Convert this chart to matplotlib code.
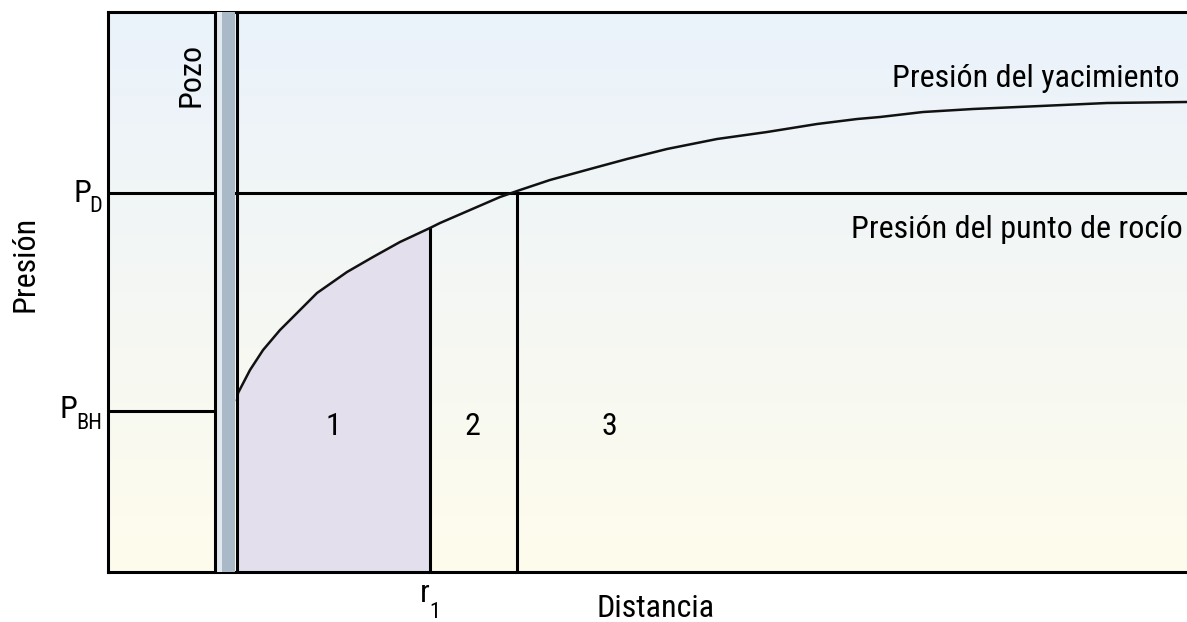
import numpy as np
import matplotlib.pyplot as plt
from matplotlib.colors import to_rgb

plt.rcParams['font.family'] = ['Roboto Condensed', 'DejaVu Sans']

# pressure profile (distance and pressure in % of axis range)
distance = [11.96, 12.05, 13.16, 14.37, 15.94, 17.52, 19.37, 22.15, 24.56, 27.06,
            29.84, 30.77, 36.33, 38.18, 40.96, 44.67, 48.10, 51.81, 56.44, 61.08,
            65.71, 69.42, 71.55, 75.53, 80.17, 86.38, 92.59, 100]
pressure = [30.71, 31.96, 36.07, 39.64, 43.21, 46.25, 49.82, 53.57, 56.25, 58.93,
            61.43, 62.32, 66.96, 68.21, 70.00, 71.96, 73.75, 75.54, 77.32, 78.57,
            80.00, 80.89, 81.25, 82.14, 82.68, 83.21, 83.75, 83.93]

p_dew = 67.7      # P_D
p_bh = 28.7       # P_BH
r1 = 29.84        # r_1
r_dew = 37.9      # where curve crosses P_D
well_left = 9.9
well_right = 11.96

region_labels = ["1", "2", "3"]
region_x = [20.85, 33.8, 46.5]

fig = plt.figure(figsize=(11.87, 6.22), dpi=100)
ax = fig.add_axes([108 / 1187, 1 - 572 / 622, 1 - 108 / 1187, 560 / 622])
ax.set_xlim(0, 100)
ax.set_ylim(0, 100)

# background gradient: light blue at top, pale yellow at bottom
top = np.array(to_rgb('#eaf2fb'))
bot = np.array(to_rgb('#fefcec'))
t = np.linspace(0, 1, 256)[:, None]
grad = (top * (1 - t) + bot * t)[:, None, :]
ax.imshow(grad, extent=[0, 100, 0, 100], aspect='auto', zorder=0)

# region 1 fill
d = np.array(distance)
p = np.array(pressure)
ax.fill_between(d, 0, p, where=d <= r1, color='#e4dfec', zorder=1, lw=0)

# curve
ax.plot(distance, pressure, color='#111111', lw=1.8, zorder=4, clip_on=False)

# horizontal reference lines
ax.plot([0, 100], [p_dew, p_dew], color='black', lw=2.2, zorder=3)
ax.plot([0, well_left], [p_bh, p_bh], color='black', lw=2.2, zorder=3)

# vertical boundaries
ax.plot([r1, r1], [0, np.interp(r1, distance, pressure)], color='black', lw=2.2, zorder=3)
ax.plot([r_dew, r_dew], [0, p_dew], color='black', lw=2.2, zorder=3)

# the well
ax.axvspan(well_left, well_left + 0.7, color='#e1e9ef', lw=0, zorder=5)
ax.axvspan(well_left + 0.7, well_right - 0.2, color='#aab9c8', lw=0, zorder=5)
ax.axvline(well_left, color='black', lw=2.2, zorder=6)
ax.axvline(well_right, color='black', lw=2.2, zorder=6)

# spines
for s in ['left', 'bottom', 'top']:
    ax.spines[s].set_linewidth(2.2)
ax.spines['right'].set_visible(False)
ax.set_xticks([])
ax.set_yticks([])

fs = 23
sub = 16
ax.text(99.3, 86.6, "Presión del yacimiento", ha='right', va='baseline', fontsize=fs, zorder=7)
ax.text(99.6, 59.6, "Presión del punto de rocío", ha='right', va='baseline', fontsize=fs, zorder=7)
ax.text(7.7, 94.5, "Pozo", rotation=90, ha='center', va='top', fontsize=fs, zorder=7)

for lab, x in zip(region_labels, region_x):
    ax.text(x, 24.5, lab, ha='center', va='baseline', fontsize=fs, zorder=7)

# outside labels
ax.text(-7.7, 55, "Presión", rotation=90, ha='center', va='center', fontsize=fs, clip_on=False)
ax.text(-3.24, 66.1, "P", ha='left', va='baseline', fontsize=fs, clip_on=False)
ax.text(-1.75, 64.3, "D", ha='left', va='baseline', fontsize=sub, clip_on=False)
ax.text(-4.45, 27.5, "P", ha='left', va='baseline', fontsize=fs, clip_on=False)
ax.text(-2.95, 25.5, "BH", ha='left', va='baseline', fontsize=sub, clip_on=False)
ax.text(28.9, -5.3, "r", ha='left', va='baseline', fontsize=fs, clip_on=False)
ax.text(29.8, -8.3, "1", ha='left', va='baseline', fontsize=sub, clip_on=False)
ax.text(45.3, -8.0, "Distancia", ha='left', va='baseline', fontsize=fs, clip_on=False)

fig.savefig('out.png', dpi=100)
